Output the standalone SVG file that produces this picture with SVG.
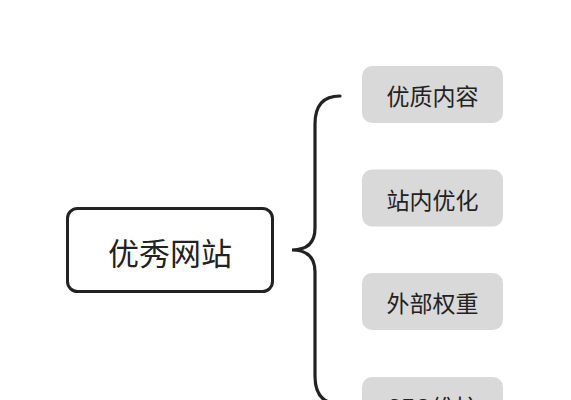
<svg xmlns="http://www.w3.org/2000/svg" width="571" height="400" viewBox="0 0 571 400">
<style>
.bg{fill:#ffffff}
.main{fill:#ffffff;stroke:#222222;stroke-width:3}
.sub{fill:#d9d9d9;stroke:none}
.t{font-family:"Noto Sans CJK SC","Noto Sans",sans-serif;fill:#222222;text-anchor:middle;dominant-baseline:central}
.brace{fill:none;stroke:#222222;stroke-width:3.2;stroke-linecap:round}
</style>
<rect class="bg" x="0" y="0" width="571" height="400"/>
<g id="connectors">
<path class="brace" d="M340,96 Q315,96 315,124 L315,228 Q315,250 292,250 Q315,250 315,272 L315,376 Q315,404 340,404"/>
</g>
<g id="node-main">
<rect class="main" x="67.5" y="208.5" width="205" height="83" rx="10"/>
<text class="t" x="170" y="251" font-size="31">优秀网站</text>
</g>
<g id="node-1">
<rect class="sub" x="362" y="66" width="141" height="57" rx="10"/>
<text class="t" x="432.5" y="95" font-size="23">优质内容</text>
</g>
<g id="node-2">
<rect class="sub" x="362" y="169.5" width="141" height="57" rx="10"/>
<text class="t" x="432.5" y="198.5" font-size="23">站内优化</text>
</g>
<g id="node-3">
<rect class="sub" x="362" y="273" width="141" height="57" rx="10"/>
<text class="t" x="432.5" y="302" font-size="23">外部权重</text>
</g>
<g id="node-4">
<rect class="sub" x="362" y="377" width="141" height="57" rx="10"/>
<text class="t" x="432.5" y="406" font-size="23">SEO维护</text>
</g>
</svg>
